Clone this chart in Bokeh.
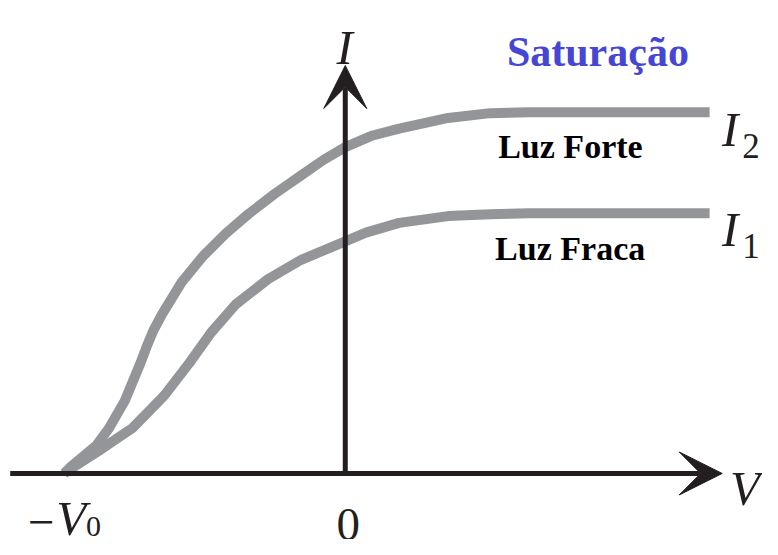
from bokeh.plotting import figure
from bokeh.models import Range1d, Arrow, VeeHead, ColumnDataSource
from bokeh.core.properties import value
from bokeh.embed import file_html
from bokeh.resources import INLINE

# ---- data (V in units of V0, I in units of I2) ----
v_strong = [-1.0000, -0.9756, -0.8850, -0.8397, -0.7840, -0.7282, -0.7073, -0.6829, -0.6516,
            -0.5819, -0.5052, -0.4251, -0.3449, -0.2509, -0.1568, -0.0767, 0.0000, 0.0976,
            0.1916, 0.3659, 0.5157, 0.6551, 1.2962]
i_strong = [0.0000, 0.0188, 0.0780, 0.1263, 0.2016, 0.3065, 0.3495, 0.3952, 0.4409,
            0.5296, 0.6022, 0.6640, 0.7177, 0.7742, 0.8253, 0.8683, 0.9032, 0.9355,
            0.9543, 0.9839, 0.9973, 1.0000, 1.0000]

v_weak = [-1.0000, -0.9652, -0.8780, -0.8328, -0.7561, -0.6446, -0.5993, -0.5540, -0.4774,
          -0.3902, -0.2753, -0.1568, 0.0000, 0.0732, 0.1916, 0.3659, 0.5157, 0.6551, 1.2962]
i_weak = [0.0000, 0.0188, 0.0618, 0.0860, 0.1263, 0.2151, 0.2608, 0.3065, 0.3898,
          0.4677, 0.5376, 0.5914, 0.6425, 0.6667, 0.6935, 0.7124, 0.7177, 0.7204, 0.7204]

axis_v_start, axis_v_end = -1.192, 1.341
axis_i_end = 1.129

GREY = "#939598"
INK = "#231f20"
SERIF = "Liberation Serif"

p = figure(width=762, height=539, output_backend="svg", toolbar_location=None,
           x_range=Range1d(-1.2265, 1.4843), y_range=Range1d(-0.1828, 1.3091),
           min_border=0, background_fill_color="white", border_fill_color="white")
p.xaxis.visible = False
p.yaxis.visible = False
p.grid.visible = False
p.outline_line_color = None

p.line(v_strong, i_strong, line_color=GREY, line_width=10, line_join="round")
p.line(v_weak, i_weak, line_color=GREY, line_width=10, line_join="round")

head_kw = dict(size=43, fill_color=INK, line_color=INK, line_width=1)
p.add_layout(Arrow(end=VeeHead(**head_kw), x_start=axis_v_start, y_start=0,
                   x_end=axis_v_end, y_end=0, line_color=INK, line_width=5))
p.add_layout(Arrow(end=VeeHead(**head_kw), x_start=0, y_start=0,
                   x_end=0, y_end=axis_i_end, line_color=INK, line_width=5))

# ---- labels ----
italic_src = ColumnDataSource(dict(x=[-0.031, 1.340, 1.340, 1.369, -1.028],
                                   y=[1.180, 0.952, 0.675, -0.043, -0.125],
                                   t=["I", "I", "I", "V", "V"]))
p.text("x", "y", text="t", source=italic_src, text_font=value(SERIF),
       text_font_style="italic", text_font_size="49px", text_color=INK,
       text_baseline="alphabetic", text_align="left")

sub_src = ColumnDataSource(dict(x=[1.412, 1.412], y=[0.906, 0.629], t=["2", "1"]))
p.text("x", "y", text="t", source=sub_src, text_font=value(SERIF),
       text_font_size="35px", text_color=INK,
       text_baseline="alphabetic", text_align="left")

p.text([-0.922], [-0.147], text=["0"], text_font=value(SERIF),
       text_font_size="30px", text_color=INK,
       text_baseline="alphabetic", text_align="left")

norm_src = ColumnDataSource(dict(x=[-0.031, -1.129], y=[-0.142, -0.137], t=["0", "\u2212"]))
p.text("x", "y", text="t", source=norm_src, text_font=value(SERIF),
       text_font_size="47px", text_color=INK,
       text_baseline="alphabetic", text_align="left")

p.text([0.575], [1.167], text=["Saturação"], text_font=value(SERIF),
       text_font_style="bold", text_font_size="42px", text_color="#4646d4",
       text_baseline="alphabetic", text_align="left")

p.text([0.544, 0.533], [0.906, 0.624], text=["Luz Forte", "Luz Fraca"], text_font=value(SERIF),
       text_font_style="bold", text_font_size="34px", text_color="black",
       text_baseline="alphabetic", text_align="left")

open("out.html", "w").write(file_html(p, INLINE))
